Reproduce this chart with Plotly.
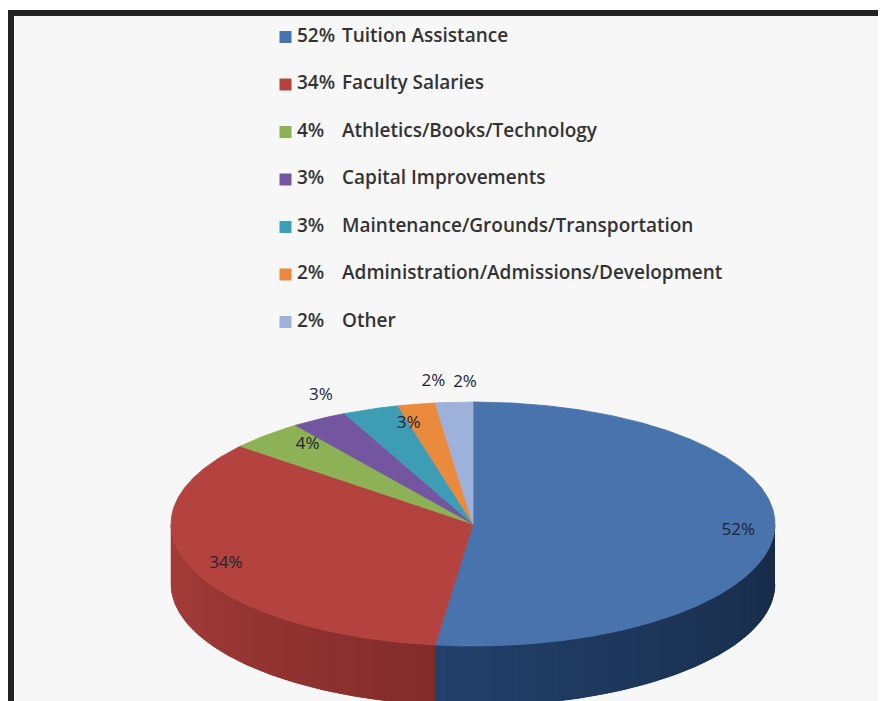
import numpy as np
import plotly.graph_objects as go

# ---------------- data ----------------
categories = ["Tuition Assistance", "Faculty Salaries", "Athletics/Books/Technology",
              "Capital Improvements", "Maintenance/Grounds/Transportation",
              "Administration/Admissions/Development", "Other"]
values = [52, 34, 4, 3, 3, 2, 2]
pct_labels = [f"{v}%" for v in values]

# ---------------- style ----------------
top_colors = ["#4873AC", "#B4433F", "#8DB255", "#7456A0", "#3C9DB5", "#E98A3C", "#9DB1DA"]
side_dark = ["#172A45", "#822C2A", "#5E7A34", "#4A3569", "#256B7C", "#A95E22", "#6B7FA6"]
side_light = ["#22406A", "#A83E3B", "#7E9F48", "#654B8C", "#338EA4", "#D17A33", "#8A9ECB"]
W, H = 886, 701          # page size
OFF = 8                  # page margin around the plot div
PW, PH = W - OFF, H - OFF
CX, CY, RX, RY, DEPTH = 473, 524, 302, 122, 60
# label placement factors (horizontal, vertical) relative to radii
lab_fx = [0.88, 0.88, 0.80, 0.99, 0.63, 0.70, 0.42]
lab_fy = [0.88, 0.88, 0.89, 1.22, 0.87, 1.19, 1.16]
FONT = "Open Sans, Lato, DejaVu Sans, sans-serif"
LEG_SQ_X, LEG_PCT_X, LEG_NAME_X = 285.5, 297, 342
LEG_ROW0, LEG_STEP = 37, 47.5


def pt(phi, r=1.0, dy=0.0):
    a = np.radians(phi)
    return CX + RX * r * np.sin(a), CY - RY * r * np.cos(a) + dy


def mix(c1, c2, t):
    a = [int(c1[i:i + 2], 16) for i in (1, 3, 5)]
    b = [int(c2[i:i + 2], 16) for i in (1, 3, 5)]
    return "rgb(%d,%d,%d)" % tuple(round(a[k] + (b[k] - a[k]) * t) for k in range(3))


fig = go.Figure()

total = float(sum(values))
ang = np.concatenate([[0.0], np.cumsum(values) / total * 360.0])

# side walls (front half only: 90..270 deg measured clockwise from top)
for i in range(len(values)):
    lo, hi = max(ang[i], 90.0), min(ang[i + 1], 270.0)
    if hi <= lo:
        continue
    ph = np.linspace(lo, hi, 120)
    xt, yt = pt(ph)
    xb, yb = pt(ph[::-1], dy=DEPTH)
    col = mix(side_dark[i], side_light[i], 0.5)
    fig.add_trace(go.Scatter(
        x=np.concatenate([xt, xb]), y=np.concatenate([yt, yb]),
        mode="lines", fill="toself", fillcolor=col,
        line=dict(color=col, width=0.5), hoverinfo="skip", showlegend=False))
    n = max(2, int(np.ceil((hi - lo) / 1.0)))
    edges = np.linspace(lo, hi, n + 1)
    for s0, s1 in zip(edges[:-1], edges[1:]):
        e1 = min(s1 + 0.6, hi)
        ph = np.linspace(s0, e1, 4)
        xt, yt = pt(ph)
        xb, yb = pt(ph[::-1], dy=DEPTH)
        t = ((s0 + s1) / 2 - lo) / max(hi - lo, 1e-9)
        col = mix(side_dark[i], side_light[i], t)
        fig.add_trace(go.Scatter(
            x=np.concatenate([xt, xb]), y=np.concatenate([yt, yb]),
            mode="none", fill="toself", fillcolor=col,
            hoverinfo="skip", showlegend=False))

# top faces
for i in range(len(values)):
    ph = np.linspace(ang[i], ang[i + 1], max(3, int((ang[i + 1] - ang[i]) * 2)))
    xa, ya = pt(ph)
    x = np.concatenate([[CX], xa, [CX]])
    y = np.concatenate([[CY], ya, [CY]])
    fig.add_trace(go.Scatter(
        x=x, y=y, mode="lines", fill="toself", fillcolor=top_colors[i],
        line=dict(color=top_colors[i], width=0.8), name=categories[i],
        hoverinfo="name", showlegend=False))

# data labels
mid = (ang[:-1] + ang[1:]) / 2
lx = [CX + RX * lab_fx[i] * np.sin(np.radians(mid[i])) for i in range(len(values))]
ly = [CY - RY * lab_fy[i] * np.cos(np.radians(mid[i])) for i in range(len(values))]
fig.add_trace(go.Scatter(
    x=lx, y=ly, mode="text", text=pct_labels, textposition="middle center",
    textfont=dict(family=FONT, size=17, color="#1E2430"),
    hoverinfo="skip", showlegend=False))

# legend block (y2 axis: one unit per category row)
rows = list(range(len(categories)))
fig.add_trace(go.Scatter(
    x=[LEG_SQ_X] * len(rows), y=rows, mode="markers",
    marker=dict(symbol="square", size=12, color=top_colors, line=dict(width=0)),
    yaxis="y2", hoverinfo="skip", showlegend=False))
fig.add_trace(go.Scatter(
    x=[LEG_PCT_X] * len(rows), y=rows, mode="text", text=pct_labels,
    textposition="middle right",
    textfont=dict(family=FONT, size=19, color="#333333", weight=600),
    yaxis="y2", hoverinfo="skip", showlegend=False))
fig.add_trace(go.Scatter(
    x=[LEG_NAME_X] * len(rows), y=rows, mode="text", text=categories,
    textposition="middle right",
    textfont=dict(family=FONT, size=19, color="#333333", weight=600),
    yaxis="y2", hoverinfo="skip", showlegend=False))

# frame
shapes = [
    dict(type="rect", xref="x", yref="y", x0=8, x1=W + 5, y0=10, y1=H + 5,
         fillcolor="#F7F7F7", line=dict(width=0), layer="below"),
    dict(type="rect", xref="x", yref="y", x0=8, x1=W + 5, y0=10, y1=16,
         fillcolor="#222222", line=dict(width=0), layer="below"),
    dict(type="rect", xref="x", yref="y", x0=8, x1=14, y0=10, y1=H + 5,
         fillcolor="#222222", line=dict(width=0), layer="below"),
]

ax_off = dict(visible=False, showgrid=False, zeroline=False, fixedrange=True)
y_top, y_bot = OFF, OFF + PH
fig.update_layout(
    width=PW, height=PH, margin=dict(l=0, r=0, t=0, b=0),
    paper_bgcolor="white", plot_bgcolor="rgba(0,0,0,0)",
    # axes expressed in page pixels (plot div sits 8 px from the page edge)
    xaxis=dict(range=[OFF, OFF + PW], domain=[0, 1], **ax_off),
    yaxis=dict(range=[y_bot, y_top], domain=[0, 1], **ax_off),
    yaxis2=dict(range=[(y_bot - LEG_ROW0) / LEG_STEP, (y_top - LEG_ROW0) / LEG_STEP],
                domain=[0, 1], anchor="x", overlaying="y", **ax_off),
    shapes=shapes, showlegend=False,
)

fig.write_html("out.html")
